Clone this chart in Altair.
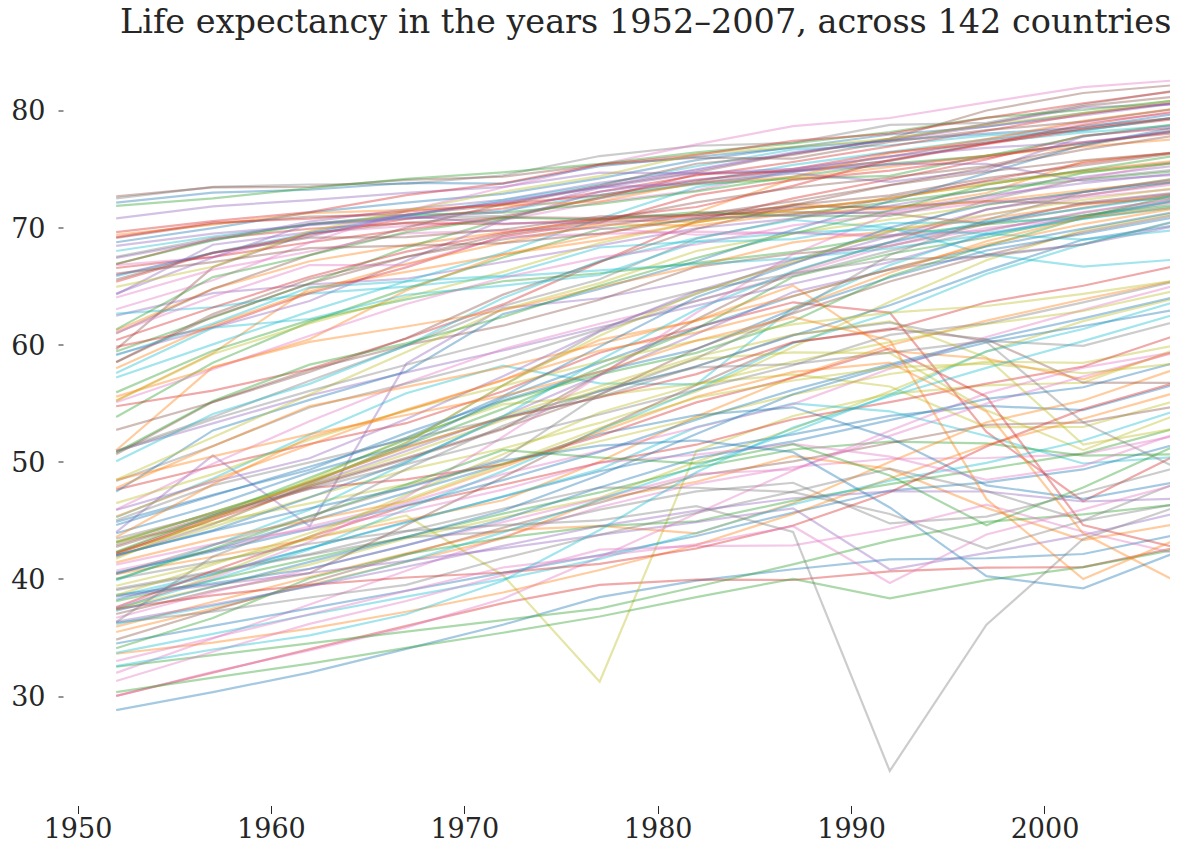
import altair as alt
import pandas as pd

years = [1952, 1957, 1962, 1967, 1972, 1977, 1982, 1987, 1992, 1997, 2002, 2007]

afghanistan = [28.801, 30.332, 31.997, 34.02, 36.088, 38.438, 39.854, 40.822, 41.674, 41.763, 42.129, 43.828]
albania = [55.23, 59.28, 64.82, 66.22, 67.69, 68.93, 70.42, 72, 71.581, 72.95, 75.651, 76.423]
algeria = [43.077, 45.685, 48.303, 51.407, 54.518, 58.014, 61.368, 65.799, 67.744, 69.152, 70.994, 72.301]
angola = [30.015, 31.999, 34, 35.985, 37.928, 39.483, 39.942, 39.906, 40.647, 40.963, 41.003, 42.731]
argentina = [62.485, 64.399, 65.142, 65.634, 67.065, 68.481, 69.942, 70.774, 71.868, 73.275, 74.34, 75.32]
australia = [69.12, 70.33, 70.93, 71.1, 71.93, 73.49, 74.74, 76.32, 77.56, 78.83, 80.37, 81.235]
austria = [66.8, 67.48, 69.54, 70.14, 70.63, 72.17, 73.18, 74.94, 76.04, 77.51, 78.98, 79.829]
bahrain = [50.939, 53.832, 56.923, 59.923, 63.3, 65.593, 69.052, 70.75, 72.601, 73.925, 74.795, 75.635]
bangladesh = [37.484, 39.348, 41.216, 43.453, 45.252, 46.923, 50.009, 52.819, 56.018, 59.412, 62.013, 64.062]
belgium = [68, 69.24, 70.25, 70.94, 71.44, 72.8, 73.93, 75.35, 76.46, 77.53, 78.32, 79.441]
benin = [38.223, 40.358, 42.618, 44.885, 47.014, 49.19, 50.904, 52.337, 53.919, 54.777, 54.406, 56.728]
bolivia = [40.414, 41.89, 43.428, 45.032, 46.714, 50.023, 53.859, 57.251, 59.957, 62.05, 63.883, 65.554]
bosnia = [53.82, 58.45, 61.93, 64.79, 67.45, 69.86, 70.69, 71.14, 72.178, 73.244, 74.09, 74.852]
botswana = [47.622, 49.618, 51.52, 53.298, 56.024, 59.319, 61.484, 63.622, 62.745, 52.556, 46.634, 50.728]
brazil = [50.917, 53.285, 55.665, 57.632, 59.504, 61.489, 63.336, 65.205, 67.057, 69.388, 71.006, 72.39]
bulgaria = [59.6, 66.61, 69.51, 70.42, 70.9, 70.81, 71.08, 71.34, 71.19, 70.32, 72.14, 73.005]
burkina_faso = [31.975, 34.906, 37.814, 40.697, 43.591, 46.137, 48.122, 49.557, 50.26, 50.324, 50.65, 52.295]
burundi = [39.031, 40.533, 42.045, 43.548, 44.057, 45.91, 47.471, 48.211, 44.736, 45.326, 47.36, 49.58]
cambodia = [39.417, 41.366, 43.415, 45.415, 40.317, 31.22, 50.957, 53.914, 55.803, 56.534, 56.752, 59.723]
cameroon = [38.523, 40.428, 42.643, 44.799, 47.049, 49.355, 52.961, 54.985, 54.314, 52.199, 49.856, 50.43]
canada = [68.75, 69.96, 71.3, 72.13, 72.88, 74.21, 75.76, 76.86, 77.95, 78.61, 79.77, 80.653]
central_african_rep = [35.463, 37.464, 39.475, 41.478, 43.457, 46.775, 48.295, 50.485, 49.396, 46.066, 43.308, 44.741]
chad = [38.092, 39.881, 41.716, 43.601, 45.569, 47.383, 49.517, 51.051, 51.724, 51.573, 50.525, 50.651]
chile = [54.745, 56.074, 57.924, 60.523, 63.441, 67.052, 70.565, 72.492, 74.126, 75.816, 77.86, 78.553]
china = [44, 50.549, 44.501, 58.381, 63.119, 63.967, 65.525, 67.274, 68.69, 70.426, 72.028, 72.961]
colombia = [50.643, 55.118, 57.863, 59.963, 61.623, 63.837, 66.653, 67.768, 68.421, 70.313, 71.682, 72.889]
comoros = [40.715, 42.46, 44.467, 46.472, 48.944, 50.939, 52.933, 54.926, 57.939, 60.66, 62.974, 65.152]
congo_dem = [39.143, 40.652, 42.122, 44.056, 45.989, 47.804, 47.784, 47.412, 45.548, 42.587, 44.966, 46.462]
congo_rep = [42.111, 45.053, 48.435, 52.04, 54.907, 55.625, 56.695, 57.47, 56.433, 52.962, 52.97, 55.322]
costa_rica = [57.206, 60.026, 62.842, 65.424, 67.849, 70.75, 73.45, 74.752, 75.713, 77.26, 78.123, 78.782]
cote_divoire = [40.477, 42.469, 44.93, 47.35, 49.801, 52.374, 53.983, 54.655, 52.044, 47.991, 46.832, 48.328]
croatia = [61.21, 64.77, 67.13, 68.5, 69.61, 70.64, 70.46, 71.52, 72.527, 73.68, 74.876, 75.748]
cuba = [59.421, 62.325, 65.246, 68.29, 70.723, 72.649, 73.717, 74.174, 74.414, 76.151, 77.158, 78.273]
czech_rep = [66.87, 69.03, 69.9, 70.38, 70.29, 70.71, 70.96, 71.58, 72.4, 74.01, 75.51, 76.486]
denmark = [70.78, 71.81, 72.35, 72.96, 73.47, 74.69, 74.63, 74.8, 75.33, 76.11, 77.18, 78.332]
djibouti = [34.812, 37.328, 39.693, 42.074, 44.366, 46.519, 48.812, 50.04, 51.604, 53.157, 53.373, 54.791]
dominican_rep = [45.928, 49.828, 53.459, 56.751, 59.631, 61.788, 63.727, 66.046, 68.457, 69.957, 70.847, 72.235]
ecuador = [48.357, 51.356, 54.64, 56.678, 58.796, 61.31, 64.342, 67.231, 69.613, 72.312, 74.173, 74.994]
egypt = [41.893, 44.444, 46.992, 49.293, 51.137, 53.319, 56.006, 59.797, 63.674, 67.217, 69.806, 71.338]
el_salvador = [45.262, 48.57, 52.307, 55.855, 58.207, 56.696, 56.604, 63.154, 66.798, 69.535, 70.734, 71.878]
equatorial_guinea = [34.482, 35.983, 37.485, 38.987, 40.516, 42.024, 43.662, 45.664, 47.545, 48.245, 49.348, 51.579]
eritrea = [35.928, 38.047, 40.158, 42.189, 44.142, 44.535, 43.89, 46.453, 49.991, 53.378, 55.24, 58.04]
ethiopia = [34.078, 36.667, 40.059, 42.115, 43.515, 44.51, 44.916, 46.684, 48.091, 49.402, 50.725, 52.947]
finland = [66.55, 67.49, 68.75, 69.83, 70.87, 72.52, 74.55, 74.83, 75.7, 77.13, 78.37, 79.313]
france = [67.41, 68.93, 70.51, 71.55, 72.38, 73.83, 74.89, 76.34, 77.46, 78.64, 79.59, 80.657]
gabon = [37.003, 38.999, 40.489, 44.598, 48.69, 52.79, 56.564, 60.19, 61.366, 60.461, 56.761, 56.735]
gambia = [30, 32.065, 33.896, 35.857, 38.308, 41.842, 45.58, 49.265, 52.644, 55.861, 58.041, 59.448]
germany = [67.5, 69.1, 70.3, 70.8, 71, 72.5, 73.8, 74.847, 76.07, 77.34, 78.67, 79.406]
ghana = [43.149, 44.779, 46.452, 48.072, 49.875, 51.756, 53.744, 55.729, 57.501, 58.556, 58.453, 60.022]
greece = [65.86, 67.86, 69.51, 71, 72.34, 73.68, 75.24, 76.67, 77.03, 77.869, 78.256, 79.483]
guatemala = [42.023, 44.142, 46.954, 50.016, 53.738, 56.029, 58.137, 60.782, 63.373, 66.322, 68.978, 70.259]
guinea = [33.609, 34.558, 35.753, 37.197, 38.842, 40.762, 42.891, 45.552, 48.576, 51.455, 53.676, 56.007]
guinea_bissau = [32.5, 33.489, 34.488, 35.492, 36.486, 37.465, 39.327, 41.245, 43.266, 44.873, 45.504, 46.388]
haiti = [37.579, 40.696, 43.59, 46.243, 48.042, 49.923, 51.461, 53.636, 55.089, 56.671, 58.137, 60.916]
honduras = [41.912, 44.665, 48.041, 50.924, 53.884, 57.402, 60.909, 64.492, 66.399, 67.659, 68.565, 70.198]
hong_kong = [60.96, 64.75, 67.65, 70, 72, 73.6, 75.45, 76.2, 77.601, 80, 81.495, 82.208]
hungary = [64.03, 66.41, 67.96, 69.5, 69.76, 69.95, 69.39, 69.58, 69.17, 71.04, 72.59, 73.338]
iceland = [72.49, 73.47, 73.68, 73.73, 74.46, 76.11, 76.99, 77.23, 78.77, 78.95, 80.5, 81.757]
india = [37.373, 40.249, 43.605, 47.193, 50.651, 54.208, 56.596, 58.553, 60.223, 61.765, 62.879, 64.698]
indonesia = [37.468, 39.918, 42.518, 45.964, 49.203, 52.702, 56.159, 60.137, 62.681, 66.041, 68.588, 70.65]
iran = [44.869, 47.181, 49.325, 52.469, 55.234, 57.702, 59.62, 63.04, 65.742, 68.042, 69.451, 70.964]
iraq = [45.32, 48.437, 51.457, 54.459, 56.95, 60.413, 62.038, 65.044, 59.461, 58.811, 57.046, 59.545]
ireland = [66.91, 68.9, 70.29, 71.08, 71.28, 72.03, 73.1, 74.36, 75.467, 76.122, 77.783, 78.885]
israel = [65.39, 67.84, 69.39, 70.75, 71.63, 73.06, 74.45, 75.6, 76.93, 78.269, 79.696, 80.745]
italy = [65.94, 67.81, 69.24, 71.06, 72.19, 73.48, 74.98, 76.42, 77.44, 78.82, 80.24, 80.546]
jamaica = [58.53, 62.61, 65.61, 67.51, 69, 70.11, 71.21, 71.77, 71.766, 72.262, 72.047, 72.567]
japan = [63.03, 65.5, 68.73, 71.43, 73.42, 75.38, 77.11, 78.67, 79.36, 80.69, 82, 82.603]
jordan = [43.158, 45.669, 48.126, 51.629, 56.528, 61.134, 63.739, 65.869, 68.015, 69.772, 71.263, 72.535]
kenya = [42.27, 44.686, 47.949, 50.654, 53.559, 56.155, 58.766, 59.339, 59.285, 54.407, 50.992, 54.11]
korea_dem = [50.056, 54.081, 56.656, 59.942, 63.983, 67.159, 69.1, 70.647, 69.978, 67.727, 66.662, 67.297]
korea_rep = [47.453, 52.681, 55.292, 57.716, 62.612, 64.766, 67.123, 69.81, 72.244, 74.647, 77.045, 78.623]
kuwait = [55.565, 58.033, 60.47, 64.624, 67.712, 69.343, 71.309, 74.174, 75.19, 76.156, 76.904, 77.588]
lebanon = [55.928, 59.489, 62.094, 63.87, 65.421, 66.099, 66.983, 67.926, 69.292, 70.265, 71.028, 71.993]
lesotho = [42.138, 45.047, 47.747, 48.492, 49.767, 52.208, 55.078, 57.18, 59.685, 55.558, 44.593, 42.592]
liberia = [38.48, 39.486, 40.502, 41.536, 42.614, 43.764, 44.852, 46.027, 40.802, 42.221, 43.753, 45.678]
libya = [42.723, 45.289, 47.808, 50.227, 52.773, 57.442, 62.155, 66.234, 68.755, 71.555, 72.737, 73.952]
madagascar = [36.681, 38.865, 40.848, 42.881, 44.851, 46.881, 48.969, 49.35, 52.214, 54.978, 57.286, 59.443]
malawi = [36.256, 37.207, 38.41, 39.487, 41.766, 43.767, 45.642, 47.457, 49.42, 47.495, 45.009, 48.303]
malaysia = [48.463, 52.102, 55.737, 59.371, 63.01, 65.256, 68, 69.5, 70.693, 71.938, 73.044, 74.241]
mali = [33.685, 35.307, 36.936, 38.487, 39.977, 41.714, 43.916, 46.364, 48.388, 49.903, 51.818, 54.467]
mauritania = [40.543, 42.338, 44.248, 46.289, 48.437, 50.852, 53.599, 56.145, 58.333, 60.43, 62.247, 64.164]
mauritius = [50.986, 58.089, 60.246, 61.557, 62.944, 64.93, 66.711, 68.74, 69.745, 70.736, 71.954, 72.801]
mexico = [50.789, 55.19, 58.299, 60.11, 62.361, 65.032, 67.405, 69.498, 71.455, 73.67, 74.902, 76.195]
mongolia = [42.244, 45.248, 48.251, 51.253, 53.754, 55.491, 57.489, 60.222, 61.271, 63.625, 65.033, 66.803]
montenegro = [59.164, 61.448, 63.728, 67.178, 70.636, 73.066, 74.101, 74.865, 75.435, 75.445, 73.981, 74.543]
morocco = [42.873, 45.423, 47.924, 50.335, 52.862, 55.73, 59.65, 62.677, 65.393, 67.66, 69.615, 71.164]
mozambique = [31.286, 33.779, 36.161, 38.113, 40.328, 42.495, 42.795, 42.861, 44.284, 46.344, 44.026, 42.082]
myanmar = [36.319, 41.905, 45.108, 49.379, 53.07, 56.059, 58.056, 58.339, 59.32, 60.328, 59.908, 62.069]
namibia = [41.725, 45.226, 48.386, 51.159, 53.867, 56.437, 58.968, 60.835, 61.999, 58.909, 51.479, 52.906]
nepal = [36.157, 37.686, 39.393, 41.472, 43.971, 46.748, 49.594, 52.537, 55.727, 59.426, 61.34, 63.785]
netherlands = [72.13, 72.99, 73.23, 73.82, 73.75, 75.24, 76.05, 76.83, 77.42, 78.03, 78.53, 79.762]
new_zealand = [69.39, 70.26, 71.24, 71.52, 71.89, 72.22, 73.84, 74.32, 76.33, 77.55, 79.11, 80.204]
nicaragua = [42.314, 45.432, 48.632, 51.884, 55.151, 57.47, 59.298, 62.008, 65.843, 68.426, 70.836, 72.899]
niger = [37.444, 38.598, 39.487, 40.118, 40.546, 41.291, 42.598, 44.555, 47.391, 51.313, 54.496, 56.867]
nigeria = [36.324, 37.802, 39.36, 41.04, 42.821, 44.514, 45.826, 46.886, 47.472, 47.464, 46.608, 46.859]
norway = [72.67, 73.44, 73.47, 74.08, 74.34, 75.37, 75.97, 75.89, 77.32, 78.32, 79.05, 80.196]
oman = [37.578, 40.08, 43.165, 46.988, 52.143, 57.367, 62.728, 67.734, 71.197, 72.499, 74.193, 75.64]
pakistan = [43.436, 45.557, 47.67, 49.8, 51.929, 54.043, 56.158, 58.245, 60.838, 61.818, 63.61, 65.483]
panama = [55.191, 59.201, 61.817, 64.071, 66.216, 68.681, 70.472, 71.523, 72.462, 73.738, 74.712, 75.537]
paraguay = [62.649, 63.196, 64.361, 64.951, 65.815, 66.353, 66.874, 67.378, 68.225, 69.4, 70.755, 71.752]
peru = [43.902, 46.263, 49.096, 51.445, 55.448, 58.447, 61.406, 64.134, 66.458, 68.386, 69.906, 71.421]
philippines = [47.752, 51.334, 54.757, 56.393, 58.065, 60.06, 62.082, 64.151, 66.458, 68.564, 70.303, 71.688]
poland = [61.31, 65.77, 67.64, 69.61, 70.85, 70.67, 71.32, 70.98, 70.99, 72.75, 74.67, 75.563]
portugal = [59.82, 61.51, 64.39, 66.6, 69.26, 70.41, 72.77, 74.06, 74.86, 75.97, 77.29, 78.098]
puerto_rico = [64.28, 68.54, 69.62, 71.1, 72.16, 73.44, 73.75, 74.63, 73.911, 74.917, 77.778, 78.746]
reunion = [52.724, 55.09, 57.666, 60.542, 64.274, 67.064, 69.885, 71.913, 73.615, 74.772, 75.744, 76.442]
romania = [61.05, 64.1, 66.8, 66.8, 69.21, 69.46, 69.66, 69.53, 69.36, 69.72, 71.322, 72.476]
rwanda = [40, 41.5, 43, 44.1, 44.6, 45, 46.218, 44.02, 23.599, 36.087, 43.413, 46.242]
sao_tome = [46.471, 48.945, 51.893, 54.425, 56.48, 58.55, 60.351, 61.728, 62.742, 63.306, 64.337, 65.528]
saudi_arabia = [39.875, 42.868, 45.914, 49.901, 53.886, 58.69, 63.012, 66.295, 68.768, 70.533, 71.626, 72.777]
senegal = [37.278, 39.329, 41.454, 43.563, 45.815, 48.879, 52.379, 55.769, 58.196, 60.187, 61.6, 63.062]
serbia = [57.996, 61.685, 64.531, 66.914, 68.7, 70.3, 70.162, 71.218, 71.659, 72.232, 73.213, 74.002]
sierra_leone = [30.331, 31.57, 32.767, 34.113, 35.4, 36.788, 38.445, 40.006, 38.333, 39.897, 41.012, 42.568]
singapore = [60.396, 63.179, 65.798, 67.946, 69.521, 70.795, 71.76, 73.56, 75.788, 77.158, 78.77, 79.972]
slovak_rep = [64.36, 67.45, 70.33, 70.98, 70.35, 70.45, 70.8, 71.08, 71.38, 72.71, 73.8, 74.663]
slovenia = [65.57, 67.85, 69.15, 69.18, 69.82, 70.97, 71.063, 72.25, 73.64, 75.13, 76.66, 77.926]
somalia = [32.978, 34.977, 36.981, 38.977, 40.973, 41.974, 42.955, 44.501, 39.658, 43.795, 45.936, 48.159]
south_africa = [45.009, 47.985, 49.951, 51.927, 53.696, 55.527, 58.161, 60.834, 61.888, 60.236, 53.365, 49.339]
spain = [64.94, 66.66, 69.69, 71.44, 73.06, 74.39, 76.3, 76.9, 77.57, 78.77, 79.78, 80.941]
sri_lanka = [57.593, 61.456, 62.192, 64.266, 65.042, 65.949, 68.757, 69.011, 70.379, 70.457, 70.815, 72.396]
sudan = [38.635, 39.624, 40.87, 42.858, 45.083, 47.8, 50.338, 51.744, 53.556, 55.373, 56.369, 58.556]
swaziland = [41.407, 43.424, 44.992, 46.633, 49.552, 52.537, 55.561, 57.678, 58.474, 54.289, 43.869, 39.613]
sweden = [71.86, 72.49, 73.37, 74.16, 74.72, 75.44, 76.42, 77.19, 78.16, 79.39, 80.04, 80.884]
switzerland = [69.62, 70.56, 71.32, 72.77, 73.78, 75.39, 76.21, 77.41, 78.03, 79.37, 80.62, 81.701]
syria = [45.883, 48.284, 50.305, 53.655, 57.296, 61.195, 64.59, 66.974, 69.249, 71.527, 73.053, 74.143]
taiwan = [58.5, 62.4, 65.2, 67.5, 69.39, 70.59, 72.16, 73.4, 74.26, 75.25, 76.99, 78.4]
tanzania = [41.215, 42.974, 44.246, 45.757, 47.62, 49.919, 50.608, 51.535, 50.44, 48.466, 49.651, 52.517]
thailand = [50.848, 53.63, 56.061, 58.285, 60.405, 62.494, 64.597, 66.084, 67.298, 67.521, 68.564, 70.616]
togo = [38.596, 41.208, 43.922, 46.769, 49.759, 52.887, 55.471, 56.941, 58.061, 58.39, 57.561, 58.42]
trinidad = [59.1, 61.8, 64.9, 65.4, 65.9, 68.3, 68.832, 69.582, 69.862, 69.465, 68.976, 69.819]
tunisia = [44.6, 47.1, 49.579, 52.053, 55.602, 59.837, 64.048, 66.894, 70.001, 71.973, 73.042, 73.923]
turkey = [43.585, 48.079, 52.098, 54.336, 57.005, 59.507, 61.036, 63.108, 66.146, 68.835, 70.845, 71.777]
uganda = [39.978, 42.571, 45.344, 48.051, 51.016, 50.35, 49.849, 51.509, 48.825, 44.578, 47.813, 51.542]
united_kingdom = [69.18, 70.42, 70.76, 71.36, 72.01, 72.76, 74.04, 75.007, 76.42, 77.218, 78.471, 79.425]
united_states = [68.44, 69.49, 70.21, 70.76, 71.34, 73.38, 74.65, 75.02, 76.09, 76.81, 77.31, 78.242]
uruguay = [66.071, 67.044, 68.253, 68.468, 68.673, 69.481, 70.805, 71.918, 72.752, 74.223, 75.307, 76.384]
venezuela = [55.088, 57.907, 60.77, 63.479, 65.712, 67.456, 68.557, 70.19, 71.15, 72.146, 72.766, 73.747]
vietnam = [40.412, 42.887, 45.363, 47.838, 50.254, 55.764, 58.816, 62.82, 67.662, 70.672, 73.017, 74.249]
west_bank = [43.16, 45.671, 48.127, 51.631, 56.532, 60.765, 64.406, 67.046, 69.718, 71.096, 72.37, 73.422]
yemen = [32.548, 33.97, 35.18, 36.984, 39.848, 44.175, 49.113, 52.922, 55.599, 58.02, 60.308, 62.698]
zambia = [42.038, 44.077, 46.023, 47.768, 50.107, 51.386, 51.821, 50.821, 46.1, 40.238, 39.193, 42.384]
zimbabwe = [48.451, 50.469, 52.358, 53.995, 55.635, 57.674, 60.363, 62.351, 60.377, 46.809, 39.989, 43.487]

countries = [
    ("Afghanistan", afghanistan), ("Albania", albania), ("Algeria", algeria), ("Angola", angola),
    ("Argentina", argentina), ("Australia", australia), ("Austria", austria), ("Bahrain", bahrain),
    ("Bangladesh", bangladesh), ("Belgium", belgium), ("Benin", benin), ("Bolivia", bolivia),
    ("Bosnia and Herzegovina", bosnia), ("Botswana", botswana), ("Brazil", brazil), ("Bulgaria", bulgaria),
    ("Burkina Faso", burkina_faso), ("Burundi", burundi), ("Cambodia", cambodia), ("Cameroon", cameroon),
    ("Canada", canada), ("Central African Republic", central_african_rep), ("Chad", chad), ("Chile", chile),
    ("China", china), ("Colombia", colombia), ("Comoros", comoros), ("Congo, Dem. Rep.", congo_dem),
    ("Congo, Rep.", congo_rep), ("Costa Rica", costa_rica), ("Cote d'Ivoire", cote_divoire), ("Croatia", croatia),
    ("Cuba", cuba), ("Czech Republic", czech_rep), ("Denmark", denmark), ("Djibouti", djibouti),
    ("Dominican Republic", dominican_rep), ("Ecuador", ecuador), ("Egypt", egypt), ("El Salvador", el_salvador),
    ("Equatorial Guinea", equatorial_guinea), ("Eritrea", eritrea), ("Ethiopia", ethiopia), ("Finland", finland),
    ("France", france), ("Gabon", gabon), ("Gambia", gambia), ("Germany", germany),
    ("Ghana", ghana), ("Greece", greece), ("Guatemala", guatemala), ("Guinea", guinea),
    ("Guinea-Bissau", guinea_bissau), ("Haiti", haiti), ("Honduras", honduras), ("Hong Kong", hong_kong),
    ("Hungary", hungary), ("Iceland", iceland), ("India", india), ("Indonesia", indonesia),
    ("Iran", iran), ("Iraq", iraq), ("Ireland", ireland), ("Israel", israel),
    ("Italy", italy), ("Jamaica", jamaica), ("Japan", japan), ("Jordan", jordan),
    ("Kenya", kenya), ("Korea, Dem. Rep.", korea_dem), ("Korea, Rep.", korea_rep), ("Kuwait", kuwait),
    ("Lebanon", lebanon), ("Lesotho", lesotho), ("Liberia", liberia), ("Libya", libya),
    ("Madagascar", madagascar), ("Malawi", malawi), ("Malaysia", malaysia), ("Mali", mali),
    ("Mauritania", mauritania), ("Mauritius", mauritius), ("Mexico", mexico), ("Mongolia", mongolia),
    ("Montenegro", montenegro), ("Morocco", morocco), ("Mozambique", mozambique), ("Myanmar", myanmar),
    ("Namibia", namibia), ("Nepal", nepal), ("Netherlands", netherlands), ("New Zealand", new_zealand),
    ("Nicaragua", nicaragua), ("Niger", niger), ("Nigeria", nigeria), ("Norway", norway),
    ("Oman", oman), ("Pakistan", pakistan), ("Panama", panama), ("Paraguay", paraguay),
    ("Peru", peru), ("Philippines", philippines), ("Poland", poland), ("Portugal", portugal),
    ("Puerto Rico", puerto_rico), ("Reunion", reunion), ("Romania", romania), ("Rwanda", rwanda),
    ("Sao Tome and Principe", sao_tome), ("Saudi Arabia", saudi_arabia), ("Senegal", senegal), ("Serbia", serbia),
    ("Sierra Leone", sierra_leone), ("Singapore", singapore), ("Slovak Republic", slovak_rep), ("Slovenia", slovenia),
    ("Somalia", somalia), ("South Africa", south_africa), ("Spain", spain), ("Sri Lanka", sri_lanka),
    ("Sudan", sudan), ("Swaziland", swaziland), ("Sweden", sweden), ("Switzerland", switzerland),
    ("Syria", syria), ("Taiwan", taiwan), ("Tanzania", tanzania), ("Thailand", thailand),
    ("Togo", togo), ("Trinidad and Tobago", trinidad), ("Tunisia", tunisia), ("Turkey", turkey),
    ("Uganda", uganda), ("United Kingdom", united_kingdom), ("United States", united_states), ("Uruguay", uruguay),
    ("Venezuela", venezuela), ("Vietnam", vietnam), ("West Bank and Gaza", west_bank), ("Yemen, Rep.", yemen),
    ("Zambia", zambia), ("Zimbabwe", zimbabwe),
]
assert len(countries) == 142
assert all(len(v) == len(years) for _, v in countries)

tab10 = ["#1f77b4", "#ff7f0e", "#2ca02c", "#d62728", "#9467bd",
         "#8c564b", "#e377c2", "#7f7f7f", "#bcbd22", "#17becf"]
x_ticks = [1950, 1960, 1970, 1980, 1990, 2000]
y_ticks = [30, 40, 50, 60, 70, 80]
title_text = "Life expectancy in the years 1952\u20132007, across 142 countries"

rows = [
    {"country": name, "year": yr, "life": val}
    for name, vals in countries
    for yr, val in zip(years, vals)
]
df = pd.DataFrame(rows)

FONT = "DejaVu Serif"
INK = "#262626"

chart = (
    alt.Chart(df)
    .mark_line(strokeWidth=2.2, opacity=0.4, clip=True, interpolate="linear")
    .encode(
        x=alt.X(
            "year:Q",
            scale=alt.Scale(domain=[1949.25, 2006.49], nice=False, zero=False),
            axis=alt.Axis(
                values=x_ticks, format="d", title=None, grid=False, domain=False,
                tickColor=INK, tickSize=8, tickWidth=1, labelColor=INK,
                labelFont=FONT, labelFontSize=27, labelPadding=3,
                labelFlush=False, labelOverlap=False,
            ),
        ),
        y=alt.Y(
            "life:Q",
            scale=alt.Scale(domain=[20.65, 85.55], nice=False, zero=False),
            axis=alt.Axis(
                values=y_ticks, format="d", title=None, grid=False, domain=False,
                tickColor=INK, tickSize=5, tickWidth=1, labelColor=INK,
                labelFont=FONT, labelFontSize=27, labelPadding=13, labelOffset=1.5,
                labelOverlap=False,
            ),
        ),
        color=alt.Color(
            "country:N",
            scale=alt.Scale(domain=[c for c, _ in countries], range=tab10),
            legend=None,
        ),
    )
    .properties(
        width=1107,
        height=760,
        title=alt.TitleParams(
            text=title_text, font=FONT, fontSize=33.5, fontWeight="normal", color=INK,
            anchor="start", frame="group", dx=57, dy=32, offset=11, baseline="alphabetic",
        ),
        autosize=alt.AutoSizeParams(type="none"),
        padding={"left": 55, "top": 37.5, "right": 0, "bottom": 42},
        background="white",
    )
    .configure_view(stroke=None)
)

chart.save("out.html", embed_options={"renderer": "svg", "actions": False})
